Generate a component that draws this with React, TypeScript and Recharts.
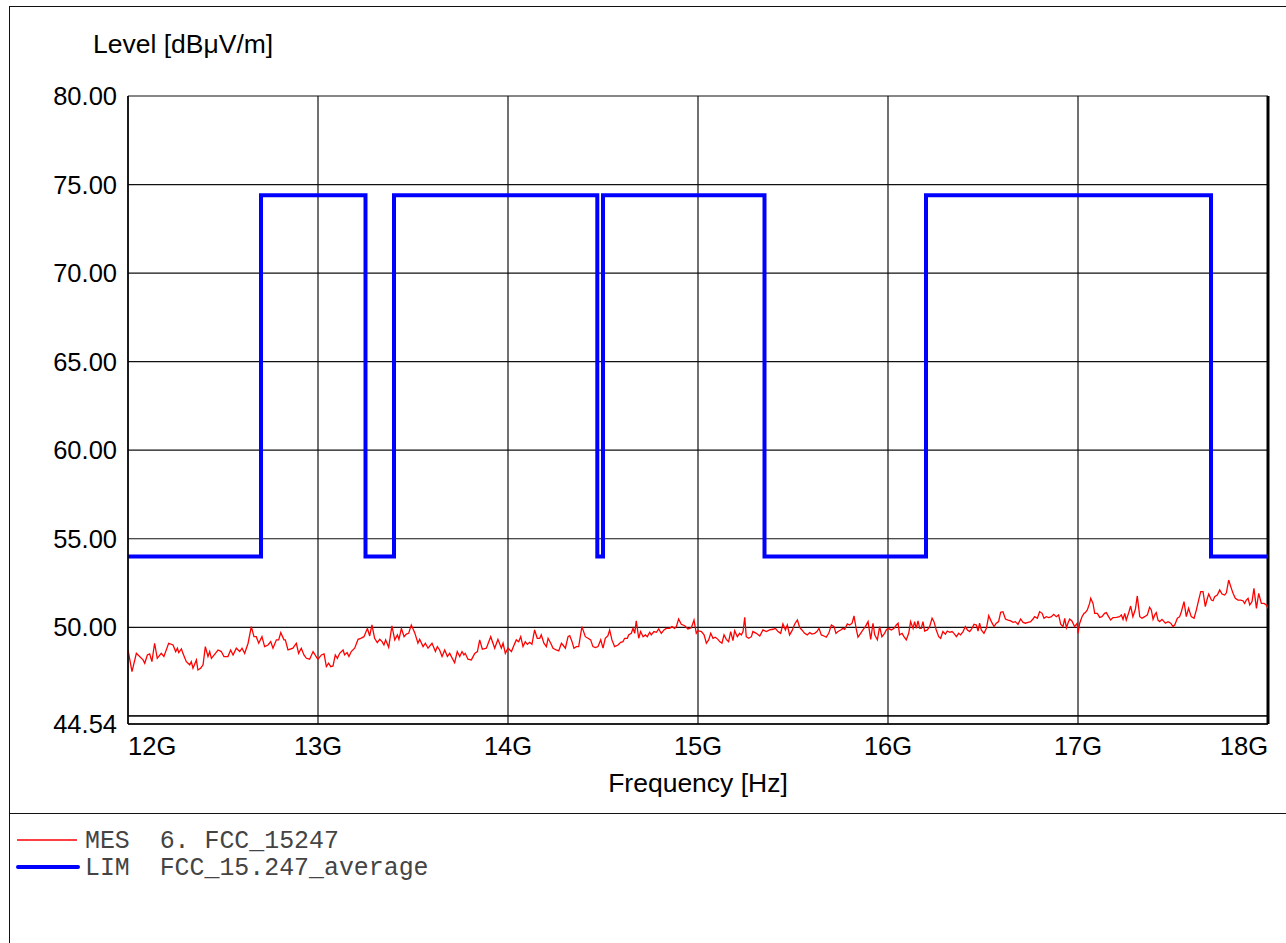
import React from "react";
import { LineChart, Line, XAxis, YAxis, CartesianGrid, ReferenceLine } from "recharts";

// axis ticks
const FREQ_TICKS = [12, 13, 14, 15, 16, 17, 18];
const LEVEL_TICKS = [44.54, 45, 50, 55, 60, 65, 70, 75, 80];

// LIM FCC_15.247_average (step edges in GHz)
const limitFreq = [12, 12.7, 13.25, 13.4, 14.47, 14.5, 15.35, 16.2, 17.7, 18];
const limitLevel = [54, 74.4, 54, 74.4, 54, 74.4, 54, 74.4, 54, 54];

// MES 6. FCC_15247: [GHz, dBuV/m]
const mes12 = [
  [12.0, 48.72], [12.021, 47.5], [12.044, 48.53], [12.079, 48.16], [12.088, 47.97], [12.102, 48.44],
  [12.114, 48.5], [12.126, 48.06], [12.14, 49.1], [12.154, 48.25], [12.175, 48.53], [12.189, 48.35],
  [12.214, 49.1], [12.237, 49.0], [12.251, 48.63], [12.26, 48.82], [12.267, 48.57], [12.281, 48.78],
  [12.289, 48.53], [12.307, 48.06], [12.325, 47.88], [12.333, 48.06], [12.342, 47.69], [12.36, 48.16],
  [12.368, 47.59], [12.382, 47.69], [12.395, 47.88], [12.407, 48.91], [12.421, 48.35], [12.43, 48.63],
  [12.439, 48.25], [12.46, 48.53], [12.474, 48.72], [12.491, 48.63], [12.505, 48.35], [12.526, 48.35],
  [12.54, 48.72], [12.553, 48.44], [12.57, 48.82], [12.588, 48.63], [12.6, 48.82], [12.614, 48.53],
  [12.632, 49.1], [12.649, 50.04], [12.663, 49.47], [12.675, 49.47], [12.688, 49.1], [12.705, 49.47],
  [12.719, 48.91], [12.737, 49.0], [12.751, 49.19], [12.763, 48.82], [12.781, 49.29], [12.793, 49.29],
  [12.804, 49.7], [12.821, 49.29], [12.828, 49.29], [12.842, 48.72], [12.868, 48.82], [12.886, 49.1],
  [12.898, 48.53], [12.912, 48.82], [12.926, 48.44], [12.939, 48.25], [12.956, 48.2], [12.974, 48.63],
  [12.996, 48.25],
];
const mes13 = [
  [13.0, 48.2], [13.018, 48.44], [13.032, 48.5], [13.044, 47.78], [13.056, 47.97], [13.067, 47.78],
  [13.079, 47.82], [13.091, 48.44], [13.102, 48.25], [13.114, 48.53], [13.132, 48.72], [13.14, 48.44],
  [13.153, 48.57], [13.163, 48.35], [13.175, 48.63], [13.193, 48.82], [13.211, 49.32], [13.225, 49.38],
  [13.242, 49.47], [13.26, 49.94], [13.272, 49.51], [13.284, 50.13], [13.298, 49.38], [13.312, 49.14],
  [13.325, 49.32], [13.337, 49.19], [13.347, 49.0], [13.356, 49.29], [13.372, 48.87], [13.389, 50.08],
  [13.404, 49.29], [13.418, 49.57], [13.426, 49.32], [13.439, 49.94], [13.453, 49.47], [13.465, 49.62],
  [13.477, 49.66], [13.491, 50.13], [13.509, 49.7], [13.526, 49.1], [13.535, 49.32], [13.553, 48.91],
  [13.565, 49.1], [13.579, 48.82], [13.6, 49.1], [13.618, 48.63], [13.628, 48.91], [13.64, 48.72],
  [13.653, 48.35], [13.667, 48.72], [13.681, 48.35], [13.693, 48.53], [13.719, 48.0], [13.733, 48.63],
  [13.746, 48.35], [13.758, 48.63], [13.768, 48.44], [13.775, 48.53], [13.789, 48.2], [13.807, 48.16],
  [13.825, 48.53], [13.839, 48.63], [13.851, 49.29], [13.865, 48.76], [13.886, 48.82], [13.909, 49.47],
  [13.93, 48.82], [13.947, 49.32], [13.965, 48.82], [13.974, 49.1], [13.986, 48.53],
];
const mes14 = [
  [14.0, 48.82], [14.018, 48.63], [14.032, 49.0], [14.044, 49.29], [14.056, 49.19], [14.067, 49.47],
  [14.079, 48.91], [14.091, 49.19], [14.102, 49.04], [14.114, 49.15], [14.126, 49.04], [14.14, 49.85],
  [14.154, 49.38], [14.167, 49.38], [14.175, 49.57], [14.189, 49.1], [14.202, 48.91], [14.211, 49.38],
  [14.225, 49.1], [14.237, 48.82], [14.254, 48.72], [14.267, 48.67], [14.281, 49.1], [14.289, 49.0],
  [14.302, 48.82], [14.316, 49.47], [14.325, 49.53], [14.337, 49.19], [14.347, 48.82], [14.36, 48.91],
  [14.372, 48.91], [14.389, 50.04], [14.407, 49.47], [14.421, 49.38], [14.435, 49.29], [14.447, 48.91],
  [14.46, 48.85], [14.474, 48.91], [14.488, 49.29], [14.5, 48.82], [14.512, 49.38], [14.526, 49.53],
  [14.535, 49.85], [14.547, 49.29], [14.561, 48.91], [14.579, 49.0], [14.593, 49.15], [14.605, 49.19],
  [14.614, 49.38], [14.628, 49.38], [14.635, 49.57], [14.649, 49.66], [14.658, 49.94], [14.667, 49.66],
  [14.675, 50.36], [14.688, 49.38], [14.698, 49.76], [14.711, 49.47], [14.723, 49.57], [14.733, 49.47],
  [14.746, 49.72], [14.754, 49.57], [14.768, 49.76], [14.781, 49.72], [14.793, 49.91], [14.807, 49.66],
  [14.821, 49.85], [14.833, 49.94], [14.851, 49.94], [14.863, 50.04], [14.877, 49.94], [14.886, 50.04],
  [14.898, 50.47], [14.912, 50.17], [14.93, 50.09], [14.947, 49.91], [14.965, 49.98], [14.979, 50.41],
  [14.991, 49.66],
];
const mes15 = [
  [15.0, 49.81], [15.018, 49.76], [15.032, 49.57], [15.044, 49.1], [15.056, 49.29], [15.067, 49.66],
  [15.079, 49.38], [15.091, 49.44], [15.105, 49.32], [15.114, 49.19], [15.126, 49.1], [15.137, 49.57],
  [15.149, 49.32], [15.161, 49.19], [15.172, 49.76], [15.184, 49.25], [15.193, 49.81], [15.207, 49.47],
  [15.219, 49.66], [15.228, 49.57], [15.237, 49.76], [15.246, 50.56], [15.254, 49.47], [15.267, 49.38],
  [15.281, 49.47], [15.289, 49.76], [15.307, 49.66], [15.325, 49.51], [15.342, 49.85], [15.36, 49.76],
  [15.377, 49.85], [15.395, 49.89], [15.407, 49.94], [15.421, 49.76], [15.435, 49.66], [15.447, 50.19],
  [15.46, 49.85], [15.47, 50.13], [15.482, 49.57], [15.495, 49.81], [15.509, 50.19], [15.523, 50.41],
  [15.535, 50.0], [15.547, 49.85], [15.561, 49.66], [15.575, 49.57], [15.588, 49.7], [15.6, 49.62],
  [15.614, 49.66], [15.626, 49.76], [15.637, 49.94], [15.649, 49.57], [15.663, 49.51], [15.675, 49.44],
  [15.688, 49.66], [15.702, 50.13], [15.716, 50.04], [15.726, 49.66], [15.737, 49.76], [15.751, 49.85],
  [15.763, 49.94], [15.772, 49.89], [15.786, 50.19], [15.798, 50.13], [15.811, 50.23], [15.821, 50.64],
  [15.833, 49.89], [15.842, 49.44], [15.856, 49.66], [15.868, 49.85], [15.881, 50.04], [15.895, 50.32],
  [15.909, 49.32], [15.921, 50.23], [15.93, 49.57], [15.944, 49.29], [15.956, 50.04], [15.968, 49.47],
  [15.982, 49.66], [15.991, 49.85],
];
const mes16 = [
  [16.0, 49.94], [16.018, 49.85], [16.032, 49.94], [16.044, 50.13], [16.053, 50.23], [16.061, 49.57],
  [16.074, 49.66], [16.084, 49.47], [16.096, 49.29], [16.109, 49.66], [16.119, 50.32], [16.132, 49.94],
  [16.14, 50.32], [16.149, 49.94], [16.158, 50.36], [16.167, 49.94], [16.175, 49.94], [16.184, 50.32],
  [16.193, 49.79], [16.207, 49.85], [16.219, 50.04], [16.232, 50.51], [16.242, 50.32], [16.254, 49.85],
  [16.267, 49.47], [16.277, 49.38], [16.289, 49.76], [16.302, 49.61], [16.312, 49.79], [16.325, 49.72],
  [16.337, 49.76], [16.347, 49.66], [16.36, 49.47], [16.372, 49.66], [16.382, 49.57], [16.395, 49.76],
  [16.407, 50.04], [16.418, 49.85], [16.43, 49.76], [16.442, 49.94], [16.453, 50.17], [16.465, 50.13],
  [16.474, 49.79], [16.482, 50.23], [16.491, 49.85], [16.505, 49.66], [16.518, 49.94], [16.53, 50.66],
  [16.544, 50.32], [16.558, 50.04], [16.57, 50.23], [16.582, 50.32], [16.593, 50.85], [16.605, 50.88],
  [16.618, 50.47], [16.632, 50.41], [16.646, 50.36], [16.658, 50.28], [16.67, 50.32], [16.684, 50.17],
  [16.698, 50.47], [16.711, 50.28], [16.723, 50.23], [16.737, 50.28], [16.751, 50.32], [16.763, 50.47],
  [16.772, 50.6], [16.786, 50.51], [16.798, 50.88], [16.811, 50.79], [16.821, 50.51], [16.833, 50.6],
  [16.846, 50.55], [16.86, 50.6], [16.872, 50.73], [16.886, 50.6], [16.898, 50.7], [16.909, 50.17],
  [16.921, 50.04], [16.93, 50.51], [16.939, 49.98], [16.947, 50.23], [16.956, 50.47], [16.968, 50.36],
  [16.982, 50.04], [16.996, 50.23],
];
const mes17 = [
  [17.0, 49.66], [17.009, 50.23], [17.021, 50.6], [17.032, 50.79], [17.039, 50.83], [17.049, 50.98],
  [17.061, 51.35], [17.067, 51.64], [17.079, 51.35], [17.088, 50.79], [17.102, 50.79], [17.114, 50.56],
  [17.126, 50.6], [17.14, 50.79], [17.149, 50.83], [17.161, 50.6], [17.172, 50.41], [17.184, 50.55],
  [17.202, 50.56], [17.219, 50.6], [17.228, 50.7], [17.237, 50.45], [17.246, 50.79], [17.254, 50.41],
  [17.267, 50.83], [17.277, 51.2], [17.289, 50.6], [17.302, 51.02], [17.312, 51.77], [17.325, 50.6],
  [17.337, 50.51], [17.351, 50.6], [17.365, 50.7], [17.377, 51.13], [17.386, 50.98], [17.395, 50.45],
  [17.404, 50.7], [17.412, 50.83], [17.421, 50.41], [17.43, 50.32], [17.442, 50.45], [17.453, 50.32],
  [17.46, 50.23], [17.474, 50.32], [17.488, 50.23], [17.5, 50.04], [17.509, 50.13], [17.523, 50.51],
  [17.535, 50.6], [17.544, 50.88], [17.558, 51.45], [17.57, 50.6], [17.582, 51.07], [17.596, 50.6],
  [17.611, 50.51], [17.623, 50.98], [17.635, 51.54], [17.646, 52.01], [17.658, 52.01], [17.67, 51.17],
  [17.681, 51.64], [17.688, 51.88], [17.702, 51.54], [17.711, 51.5], [17.719, 51.73], [17.733, 51.82],
  [17.746, 52.11], [17.758, 51.88], [17.772, 51.82], [17.781, 51.95], [17.793, 52.67], [17.807, 52.2],
  [17.816, 51.92], [17.828, 51.64], [17.842, 51.54], [17.856, 51.54], [17.868, 51.5], [17.877, 51.35],
  [17.886, 51.54], [17.895, 51.64], [17.904, 51.26], [17.916, 51.45], [17.926, 52.2], [17.939, 51.07],
  [17.951, 51.92], [17.965, 51.35], [17.979, 51.35], [17.991, 51.26], [18.0, 51.07],
];

const mesData = [...mes12, ...mes13, ...mes14, ...mes15, ...mes16, ...mes17].map(([f, v]) => ({ f, v }));
const limData = limitFreq.map((f, i) => ({ f, v: limitLevel[i] }));

const SANS = "'Liberation Sans', Arial, sans-serif";
const MONO = "'Liberation Mono', 'Courier New', monospace";

const YTick = (props: any) => {
  const { x, y, payload } = props;
  if (payload.value === 45) return <g />;
  return (
    <text x={x} y={y} dy={9} textAnchor="end" fontSize={25.5} fontFamily={SANS} fill="#000">
      {Number(payload.value).toFixed(2)}
    </text>
  );
};

const XTick = (props: any) => {
  const { x, y, payload } = props;
  const anchor = payload.value === 12 ? "start" : payload.value === 18 ? "end" : "middle";
  return (
    <text x={x} y={y} dy={31} textAnchor={anchor} fontSize={25.5} fontFamily={SANS} fill="#000">
      {payload.value}G
    </text>
  );
};

export default function App() {
  return (
    <div style={{ position: "fixed", left: 0, top: 0, width: 1286, height: 943, background: "#fff", overflow: "hidden" }}>
      {/* outer frame + legend separator */}
      <div style={{ position: "absolute", left: 9, top: 6, width: 1300, height: 1000, border: "1px solid #111" }} />
      <div style={{ position: "absolute", left: 9, top: 813, width: 1300, height: 0, borderTop: "1px solid #111" }} />

      <div style={{ position: "absolute", left: 93, top: 32, fontFamily: SANS, fontSize: 26.5, lineHeight: "25px", whiteSpace: "nowrap" }}>
        Level [dBμV/m]
      </div>
      <div style={{ position: "absolute", left: 548, width: 300, top: 771, textAlign: "center", fontFamily: SANS, fontSize: 26.5, lineHeight: "25px" }}>
        Frequency [Hz]
      </div>

      <div style={{ position: "absolute", left: 0, top: 0 }}>
        <LineChart width={1286} height={943} margin={{ top: 96, right: 18, bottom: 179, left: 68 }}>
          <CartesianGrid stroke="#111" strokeWidth={1.2} />
          <XAxis
            dataKey="f"
            type="number"
            domain={[12, 18]}
            ticks={FREQ_TICKS}
            interval={0}
            height={40}
            tickSize={0}
            tickMargin={0}
            tickLine={false}
            axisLine={{ stroke: "#000", strokeWidth: 1.5 }}
            tick={<XTick />}
            allowDataOverflow
          />
          <YAxis
            dataKey="v"
            type="number"
            domain={[44.54, 80]}
            ticks={LEVEL_TICKS}
            interval={0}
            width={60}
            tickSize={0}
            tickMargin={11}
            tickLine={false}
            axisLine={{ stroke: "#000", strokeWidth: 1.5 }}
            tick={<YTick />}
            allowDataOverflow
          />
          <ReferenceLine y={45} stroke="#111" strokeWidth={1.2} />
          <ReferenceLine x={18} stroke="#000" strokeWidth={3} />
          <Line
            data={mesData}
            dataKey="v"
            type="linear"
            stroke="#ff0000"
            strokeWidth={1.3}
            dot={false}
            activeDot={false}
            isAnimationActive={false}
          />
          <Line
            data={limData}
            dataKey="v"
            type="stepAfter"
            stroke="#0000ff"
            strokeWidth={4}
            dot={false}
            activeDot={false}
            isAnimationActive={false}
          />
        </LineChart>
      </div>

      {/* legend */}
      <svg style={{ position: "absolute", left: 0, top: 820 }} width={90} height={60}>
        <line x1={17} x2={77} y1={20} y2={20} stroke="#ff0000" strokeWidth={1.3} />
        <line x1={18} x2={78} y1={47} y2={47} stroke="#0000ff" strokeWidth={4} strokeLinecap="round" />
      </svg>
      <div style={{ position: "absolute", left: 85, top: 828, fontFamily: MONO, fontSize: 24.9, lineHeight: "27px", color: "#444", whiteSpace: "pre" }}>
        {"MES  6. FCC_15247\nLIM  FCC_15.247_average"}
      </div>
    </div>
  );
}
